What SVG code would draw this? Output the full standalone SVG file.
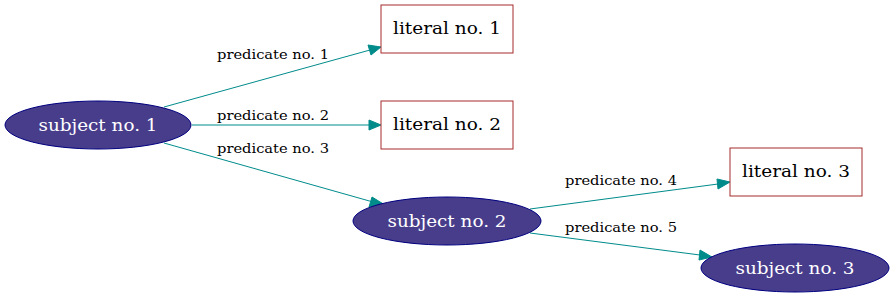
<svg xmlns="http://www.w3.org/2000/svg" width="895" height="297" viewBox="0 0 895 297">
<style>
.subj ellipse{fill:#483d8b;stroke:#000080;stroke-width:1}
.subj text{fill:#ffffff}
.lit rect{fill:#ffffff;stroke:#a52a2a;stroke-width:1}
.lit text{fill:#000000}
text{font-family:"DejaVu Serif","Liberation Serif",serif;font-size:17px;text-anchor:middle}
.edges path{fill:none;stroke:#008b8b;stroke-width:1}
.edges polygon{fill:#008b8b;stroke:#008b8b}
.edges text{font-size:13.5px;text-anchor:start;fill:#000000}
</style>
<rect width="895" height="297" fill="#ffffff"/>
<g id="edges" class="edges">
<path d="M164,107 L370,50"/><polygon points="368,45 381,47 371,55"/>
<text x="217" y="59" textLength="112" lengthAdjust="spacingAndGlyphs">predicate no. 1</text>
<path d="M192,125 L369,125"/><polygon points="369,120 381,125 369,130"/>
<text x="217" y="120" textLength="112" lengthAdjust="spacingAndGlyphs">predicate no. 2</text>
<path d="M164,143 L373,202"/><polygon points="372,197 385,205 369,207"/>
<text x="217" y="153" textLength="112" lengthAdjust="spacingAndGlyphs">predicate no. 3</text>
<path d="M530,209 L718,184"/><polygon points="717,179 730,182 718,189"/>
<text x="565" y="185" textLength="112" lengthAdjust="spacingAndGlyphs">predicate no. 4</text>
<path d="M530,233 L700,255"/><polygon points="700,250 712,257 699,260"/>
<text x="565" y="232" textLength="112" lengthAdjust="spacingAndGlyphs">predicate no. 5</text>
</g>
<g id="subject1" class="subj"><ellipse cx="98" cy="125" rx="93" ry="24"/><text x="98" y="131" textLength="119" lengthAdjust="spacingAndGlyphs">subject no. 1</text></g>
<g id="literal1" class="lit"><rect x="381" y="5" width="132" height="48"/><text x="447" y="34" textLength="108" lengthAdjust="spacingAndGlyphs">literal no. 1</text></g>
<g id="literal2" class="lit"><rect x="381" y="101" width="132" height="48"/><text x="447" y="130" textLength="108" lengthAdjust="spacingAndGlyphs">literal no. 2</text></g>
<g id="subject2" class="subj"><ellipse cx="447" cy="221" rx="94" ry="24"/><text x="447" y="227" textLength="119" lengthAdjust="spacingAndGlyphs">subject no. 2</text></g>
<g id="literal3" class="lit"><rect x="730" y="148" width="132" height="48"/><text x="796" y="177" textLength="108" lengthAdjust="spacingAndGlyphs">literal no. 3</text></g>
<g id="subject3" class="subj"><ellipse cx="795" cy="268" rx="94" ry="24"/><text x="795" y="274" textLength="119" lengthAdjust="spacingAndGlyphs">subject no. 3</text></g>
</svg>
